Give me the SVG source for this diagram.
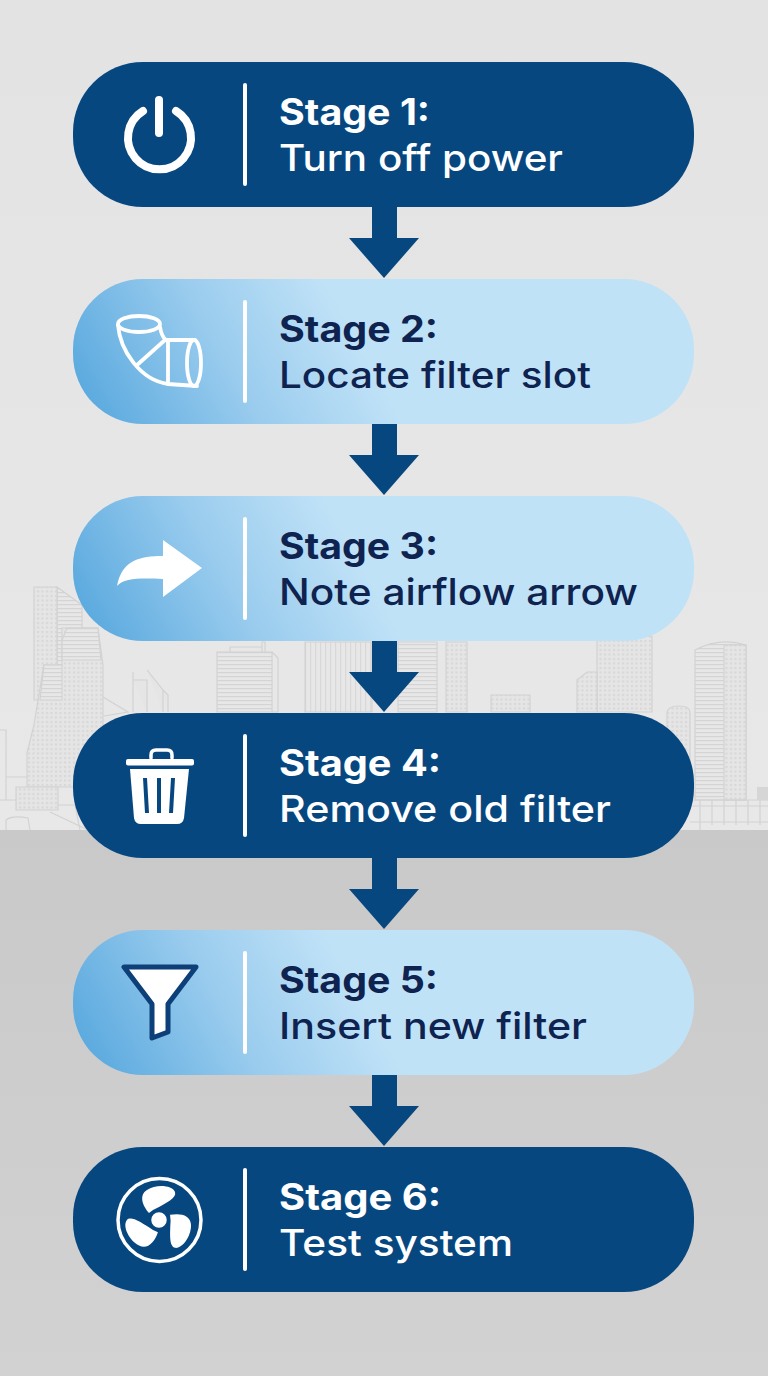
<svg xmlns="http://www.w3.org/2000/svg" width="768" height="1376" viewBox="0 0 768 1376">
<style>
.t{font-family:"Inter","Open Sans","Liberation Sans",sans-serif;font-size:36.500px}
.h{font-weight:700}.s{font-weight:500}
.dk{fill:#074780}
.wt{fill:#fff}.nt{fill:#0f2350}
.sep{fill:#fff}
.b{fill:#e5e5e5;stroke:#d2d2d2;stroke-width:1.2}
.dots{fill:url(#dots);stroke:#d2d2d2;stroke-width:1.2}
.hl{fill:url(#hl);stroke:#d2d2d2;stroke-width:1.2}
.vl{fill:url(#vl);stroke:#d2d2d2;stroke-width:1.2}
.ln{fill:none;stroke:#d2d2d2;stroke-width:1.2}
.ic{fill:none;stroke:#fff;stroke-linecap:round;stroke-linejoin:round}
</style>
<defs>
<linearGradient id="bgt" x1="0" y1="0" x2="0" y2="1"><stop offset="0" stop-color="#e3e3e3"/><stop offset="1" stop-color="#e8e8e8"/></linearGradient>
<linearGradient id="bgb" x1="0" y1="0" x2="0" y2="1"><stop offset="0" stop-color="#c9c9c9"/><stop offset="1" stop-color="#d2d2d2"/></linearGradient>
<linearGradient id="lg2" gradientUnits="userSpaceOnUse" x1="90" y1="424" x2="330" y2="290"><stop offset="0" stop-color="#58a8de"/><stop offset="0.55" stop-color="#9accee"/><stop offset="1" stop-color="#c0e2f7"/></linearGradient>
<linearGradient id="lg3" href="#lg2" gradientUnits="userSpaceOnUse" x1="90" y1="641" x2="330" y2="507"/>
<linearGradient id="lg5" href="#lg2" gradientUnits="userSpaceOnUse" x1="90" y1="1075" x2="330" y2="941"/>
<pattern id="dots" width="4.5" height="4.5" patternUnits="userSpaceOnUse"><rect width="4.5" height="4.5" fill="#e5e5e5"/><rect x="1" y="1" width="2" height="2" fill="#d6d6d6"/></pattern>
<pattern id="hl" width="5" height="4" patternUnits="userSpaceOnUse"><rect width="5" height="4" fill="#e7e7e7"/><rect width="5" height="1.2" fill="#d4d4d4"/></pattern>
<pattern id="vl" width="5" height="5" patternUnits="userSpaceOnUse"><rect width="5" height="5" fill="#e7e7e7"/><rect width="1.2" height="5" fill="#d8d8d8"/></pattern>
</defs>
<g id="background">
<rect width="768" height="830" fill="url(#bgt)"/>
<rect y="830" width="768" height="546" fill="url(#bgb)"/>
</g>
<g id="skyline">
<path class="hl" d="M57 587L82 605V700H57Z"/>
<path class="dots" d="M34 587H57V700H34Z"/>
<path class="dots" d="M27 753L34 725L38 700L44 665H62V628H98L103 665V787H27Z"/>
<path class="hl" d="M67 628H98L101 660H62V640Z"/>
<path class="hl" d="M44 665H62V700H40Z"/>
<path class="dots" d="M16 787H58V810H16Z"/>
<path class="ln" d="M0 730H6V800H0M6 777H27M0 800H16M6 830V820Q12 815 28 818L30 830M50 812L88 830M58 805H75L80 830M103 697L128 712L104 716"/>
<path class="b" d="M133 712V672M133 680H147V712M147 670L163 690V712M163 690L168 695V712"/>
<path class="hl" d="M217 652H272V712H217Z"/>
<path class="ln" d="M230 652V647H262V652M262 647V642H265V652M272 652L278 658V712H272"/>
<path class="vl" d="M305 642H372V712H305Z"/>
<path class="hl" d="M398 642H437V712H398Z"/>
<path class="dots" d="M446 642H467V712H446Z"/>
<path class="dots" d="M491 695H530V712H491Z"/>
<path class="dots" d="M597 636H652V712H597Z"/>
<path class="dots" d="M577 680L587 672H597V712H577Z"/>
<path class="dots" d="M667 712Q668 706 679 706T690 712V760H667Z"/>
<path class="hl" d="M695 650Q720 637 746 645V800H695Z"/>
<path class="dots" d="M724 645H746V800H724Z"/>
<path class="ln" d="M690 800H768M690 806H768M690 822H768M700 800V830M712 800V825M724 800V825M736 800V825M748 800V825M760 800V825"/>
<rect x="757" y="787" width="11" height="13" fill="#d6d6d6"/>
</g>
<g id="connectors">
<path class="dk" id="c1" d="M372 205H397V238H419L384 278L349 238H372Z"/>
<path class="dk" id="c2" d="M372 422H397V455H419L384 495L349 455H372Z"/>
<path class="dk" id="c3" d="M372 639H397V672H419L384 712L349 672H372Z"/>
<path class="dk" id="c4" d="M372 856H397V889H419L384 929L349 889H372Z"/>
<path class="dk" id="c5" d="M372 1073H397V1106H419L384 1146L349 1106H372Z"/>
</g>
<g id="node1">
<rect class="dk" x="73" y="62" width="621" height="145" rx="70"/>
<rect class="sep" x="243" y="83" width="4" height="103" rx="2"/>
<path class="ic" stroke-width="8" d="M143 111A31.5 31.5 0 1 0 176 111M159 100V133"/>
<text class="t h wt" x="279" y="125" textLength="151" lengthAdjust="spacingAndGlyphs">Stage 1:</text>
<text class="t s wt" x="279" y="171" textLength="284" lengthAdjust="spacingAndGlyphs">Turn off power</text>
</g>
<g id="node2">
<rect fill="url(#lg2)" x="73" y="279" width="621" height="145" rx="70"/>
<rect class="sep" x="243" y="300" width="4" height="103" rx="2"/>
<g class="ic" stroke-width="3.8">
<ellipse cx="139" cy="324" rx="21" ry="8"/>
<path d="M118 325C120 350 140 380 168 384L197 386M160 327C161 333 162 337 166 340L195 340M165 340L137 365M168 341V384"/>
<ellipse cx="194" cy="363" rx="7" ry="23"/>
</g>
<text class="t h nt" x="279" y="342" textLength="159" lengthAdjust="spacingAndGlyphs">Stage 2:</text>
<text class="t s nt" x="279" y="388" textLength="312" lengthAdjust="spacingAndGlyphs">Locate filter slot</text>
</g>
<g id="node3">
<rect fill="url(#lg3)" x="73" y="496" width="621" height="145" rx="70"/>
<rect class="sep" x="243" y="517" width="4" height="103" rx="2"/>
<path class="wt" d="M202 568L163 540V556C140 556 122 560 117 586C124 578 140 578 163 579V597Z"/>
<text class="t h nt" x="279" y="559" textLength="159" lengthAdjust="spacingAndGlyphs">Stage 3:</text>
<text class="t s nt" x="279" y="605" textLength="359" lengthAdjust="spacingAndGlyphs">Note airflow arrow</text>
</g>
<g id="node4">
<rect class="dk" x="73" y="713" width="621" height="145" rx="70"/>
<rect class="sep" x="243" y="734" width="4" height="103" rx="2"/>
<rect class="wt" x="126" y="759" width="68" height="6.500" rx="2"/>
<path class="ic" stroke-width="3.500" d="M151 758V755Q151 750 156 750H167Q172 750 172 755V758"/>
<path class="wt" d="M130 769H189L184 818Q183 824 177 824H141Q135 824 134 818Z"/>
<path class="dk" d="M143 778H147L149 813H145ZM157 778H161V813H157ZM171 778H175L173 813H169Z"/>
<text class="t h wt" x="279" y="776" textLength="162" lengthAdjust="spacingAndGlyphs">Stage 4:</text>
<text class="t s wt" x="279" y="822" textLength="332" lengthAdjust="spacingAndGlyphs">Remove old filter</text>
</g>
<g id="node5">
<rect fill="url(#lg5)" x="73" y="930" width="621" height="145" rx="70"/>
<rect class="sep" x="243" y="951" width="4" height="103" rx="2"/>
<path d="M124 967H196L168 1004V1032L152 1038V1004Z" fill="#fff" stroke="#0d3f78" stroke-width="5" stroke-linejoin="round"/>
<text class="t h nt" x="279" y="993" textLength="159" lengthAdjust="spacingAndGlyphs">Stage 5:</text>
<text class="t s nt" x="279" y="1039" textLength="308" lengthAdjust="spacingAndGlyphs">Insert new filter</text>
</g>
<g id="node6">
<rect class="dk" x="73" y="1147" width="621" height="145" rx="70"/>
<rect class="sep" x="243" y="1168" width="4" height="103" rx="2"/>
<circle cx="159.500" cy="1220" r="41.500" fill="none" stroke="#fff" stroke-width="3.500"/>
<path id="blade" class="wt" d="M149 1213C142 1205 139 1195 147 1190C156 1184 172 1185 175 1192C177 1198 166 1203 159 1207Q154 1209 149 1213Z"/>
<path class="wt" transform="rotate(120 159 1220)" d="M149 1213C142 1205 139 1195 147 1190C156 1184 172 1185 175 1192C177 1198 166 1203 159 1207Q154 1209 149 1213Z"/>
<path class="wt" transform="rotate(240 159 1220)" d="M149 1213C142 1205 139 1195 147 1190C156 1184 172 1185 175 1192C177 1198 166 1203 159 1207Q154 1209 149 1213Z"/>
<circle cx="159" cy="1220" r="9" fill="#fff" stroke="#074780" stroke-width="2.500"/>
<text class="t h wt" x="279" y="1210" textLength="162" lengthAdjust="spacingAndGlyphs">Stage 6:</text>
<text class="t s wt" x="279" y="1256" textLength="234" lengthAdjust="spacingAndGlyphs">Test system</text>
</g>
</svg>
